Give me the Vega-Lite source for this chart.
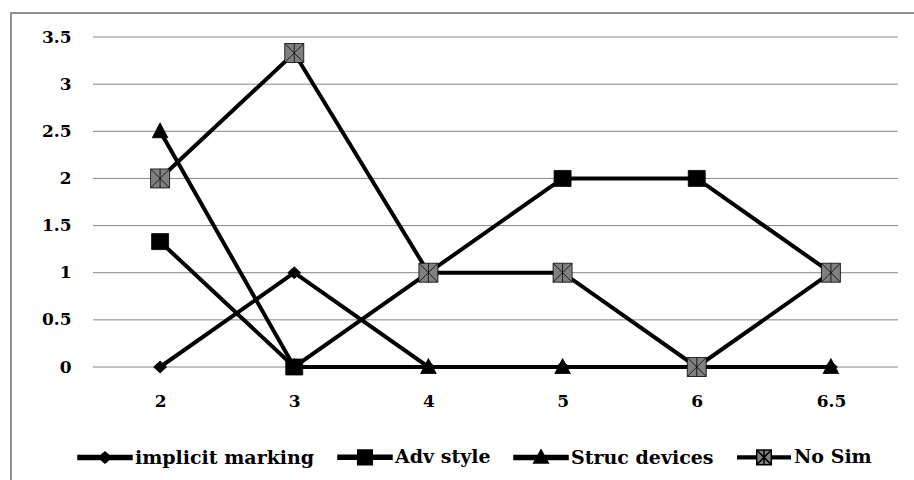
{
  "$schema": "https://vega.github.io/schema/vega-lite/v6.json",
  "width": 905,
  "height": 470,
  "autosize": {"type": "none"},
  "padding": {"left": 11, "top": 13, "right": -2, "bottom": -3},
  "background": "white",
  "config": {
    "view": {"stroke": "#8f8f8f", "strokeWidth": 2},
    "font": "DejaVu Serif",
    "axis": {"labelFont": "DejaVu Serif", "labelFontWeight": "bold", "labelFontSize": 17, "labelColor": "black", "domain": false, "ticks": false, "grid": false, "title": null},
    "legend": {"labelFont": "DejaVu Serif", "labelFontWeight": "bold", "labelFontSize": 19, "labelColor": "black", "labelLimit": 400, "symbolSize": 2916, "labelOffset": 2, "columnPadding": 20, "padding": 0}
  },
  "datasets": {
    "series": [
      {"x": "2", "series": "implicit marking", "value": 0},
      {"x": "3", "series": "implicit marking", "value": 1},
      {"x": "4", "series": "implicit marking", "value": 0},
      {"x": "5", "series": "implicit marking", "value": 0},
      {"x": "6", "series": "implicit marking", "value": 0},
      {"x": "6.5", "series": "implicit marking", "value": 0},
      {"x": "2", "series": "Adv style", "value": 1.33},
      {"x": "3", "series": "Adv style", "value": 0},
      {"x": "4", "series": "Adv style", "value": 1},
      {"x": "5", "series": "Adv style", "value": 2},
      {"x": "6", "series": "Adv style", "value": 2},
      {"x": "6.5", "series": "Adv style", "value": 1},
      {"x": "2", "series": "Struc devices", "value": 2.5},
      {"x": "3", "series": "Struc devices", "value": 0},
      {"x": "4", "series": "Struc devices", "value": 0},
      {"x": "5", "series": "Struc devices", "value": 0},
      {"x": "6", "series": "Struc devices", "value": 0},
      {"x": "6.5", "series": "Struc devices", "value": 0},
      {"x": "2", "series": "No Sim", "value": 2},
      {"x": "3", "series": "No Sim", "value": 3.33},
      {"x": "4", "series": "No Sim", "value": 1},
      {"x": "5", "series": "No Sim", "value": 1},
      {"x": "6", "series": "No Sim", "value": 0},
      {"x": "6.5", "series": "No Sim", "value": 1}
    ],
    "grid": [
      {"value": 0}, {"value": 0.5}, {"value": 1}, {"value": 1.5},
      {"value": 2}, {"value": 2.5}, {"value": 3}, {"value": 3.5}
    ]
  },
  "encoding": {
    "y": {
      "field": "value",
      "type": "quantitative",
      "scale": {"domain": [0, 3.5], "range": [354, 24], "nice": false, "zero": false},
      "axis": {"values": [0, 0.5, 1, 1.5, 2, 2.5, 3, 3.5], "labelExpr": "'' + datum.value", "offset": -71, "labelPadding": 11}
    }
  },
  "layer": [
    {
      "data": {"name": "grid"},
      "mark": {"type": "rule", "stroke": "#868686", "strokeWidth": 1},
      "encoding": {
        "x": {"datum": 0, "type": "quantitative", "scale": {"domain": [0, 1], "range": [82, 887]}, "axis": null},
        "x2": {"datum": 1}
      }
    },
    {
      "data": {"name": "series"},
      "encoding": {
        "x": {
          "field": "x",
          "type": "ordinal",
          "sort": ["2", "3", "4", "5", "6", "6.5"],
          "scale": {"type": "point", "padding": 0.5, "range": [82, 887]},
          "axis": {"labelAngle": 0, "offset": -99, "labelPadding": 9}
        }
      },
      "layer": [
        {
          "mark": {"type": "line", "stroke": "black", "strokeWidth": 4},
          "encoding": {"detail": {"field": "series"}}
        },
        {
          "mark": {"type": "point", "filled": true, "size": 400, "opacity": 1, "stroke": "black", "strokeWidth": 0.8},
          "encoding": {
            "shape": {
              "field": "series",
              "type": "nominal",
              "scale": {
                "domain": ["implicit marking", "Adv style", "Struc devices", "No Sim"],
                "range": [
                  "M0,-0.6L0.65,0L0,0.6L-0.65,0Z",
                  "M-0.85,-0.8H0.85V0.8H-0.85Z",
                  "M0,-0.85L0.78,0.65L-0.78,0.65Z",
                  "M-0.95,-0.95H0.95V0.95H-0.95Z M-0.95,-0.95L0.95,0.95 M-0.95,0.95L0.95,-0.95 M0,-0.95V0.95"
                ]
              },
              "legend": null
            },
            "fill": {
              "field": "series",
              "type": "nominal",
              "scale": {
                "domain": ["implicit marking", "Adv style", "Struc devices", "No Sim"],
                "range": ["black", "black", "black", "#808080"]
              },
              "legend": null
            }
          }
        },
        {
          "mark": {"type": "point", "filled": true, "size": 0, "opacity": 1, "stroke": "black", "strokeWidth": 1.2},
          "encoding": {
            "shape": {
              "field": "series",
              "type": "nominal",
              "scale": {
                "domain": ["implicit marking", "Adv style", "Struc devices", "No Sim"],
                "range": [
                  "M-1,-0.074H1V0.074H-1Z M0,-0.2L0.24,0L0,0.2L-0.24,0Z",
                  "M-1,-0.074H1V0.074H-1Z M-0.27,-0.27H0.27V0.27H-0.27Z",
                  "M-1,-0.074H1V0.074H-1Z M0,-0.28L0.27,0.2L-0.27,0.2Z",
                  "M-1,-0.05H-0.27M-1,-0.025H-0.27M-1,0H-0.27M-1,0.025H-0.27M-1,0.05H-0.27M0.27,-0.05H1M0.27,-0.025H1M0.27,0H1M0.27,0.025H1M0.27,0.05H1M-0.27,-0.27H0.27V0.27H-0.27Z M-0.27,-0.27L0.27,0.27M-0.27,0.27L0.27,-0.27M0,-0.27V0.27"
                ]
              },
              "legend": {
                "title": null,
                "orient": "none",
                "direction": "horizontal",
                "legendX": 66,
                "legendY": 416
              }
            },
            "fill": {
              "field": "series",
              "type": "nominal",
              "scale": {
                "domain": ["implicit marking", "Adv style", "Struc devices", "No Sim"],
                "range": ["black", "black", "black", "#808080"]
              },
              "legend": {
                "title": null,
                "orient": "none",
                "direction": "horizontal",
                "legendX": 66,
                "legendY": 416
              }
            }
          }
        }
      ],
      "resolve": {"scale": {"shape": "independent", "fill": "independent"}}
    }
  ],
  "resolve": {"scale": {"x": "independent"}}
}
